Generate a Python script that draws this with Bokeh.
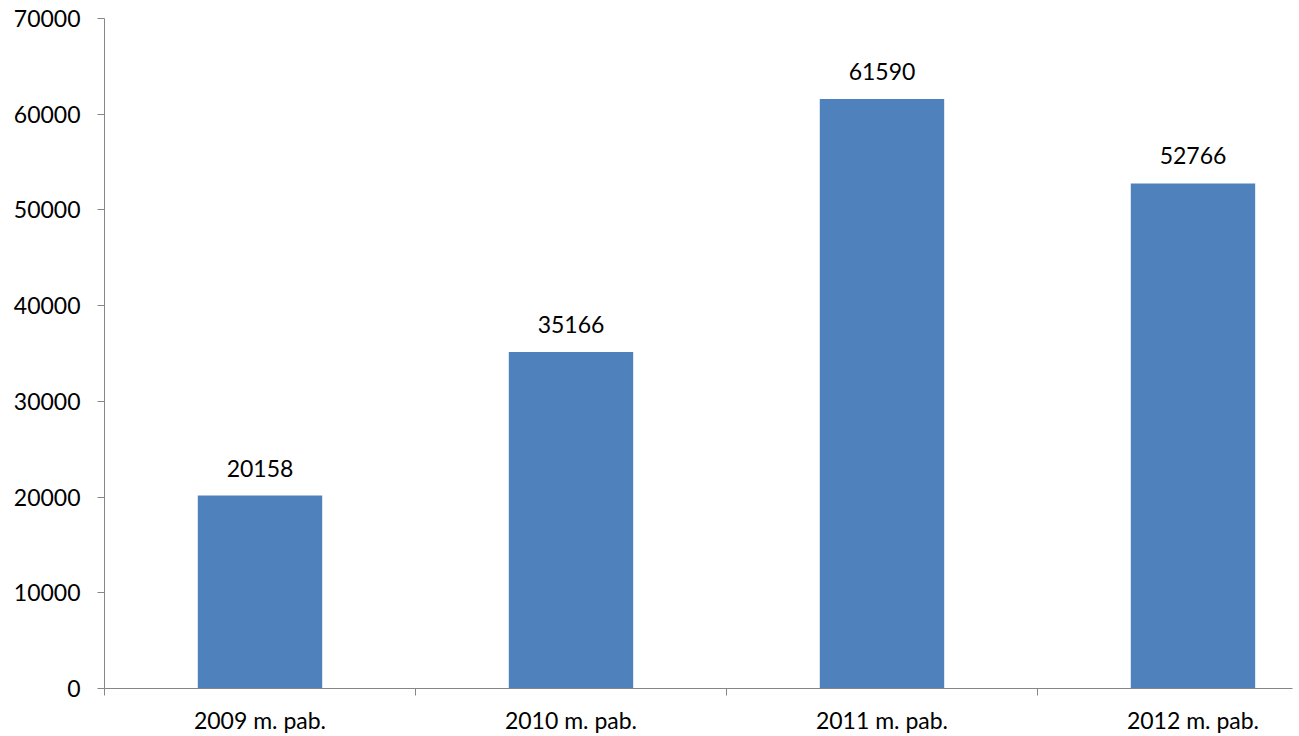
from bokeh.plotting import figure
from bokeh.models import Range1d, FixedTicker, ColumnDataSource
from bokeh.core.properties import value
from bokeh.embed import file_html
from bokeh.resources import INLINE

categories = ["2009 m. pab.", "2010 m. pab.", "2011 m. pab.", "2012 m. pab."]
values = [20158, 35166, 61590, 52766]
y_ticks = [0, 10000, 20000, 30000, 40000, 50000, 60000, 70000]

FONT = "Lato"
FS = "23px"
AXIS_COLOR = "#868686"

centers = [i + 0.5 for i in range(len(categories))]
src = ColumnDataSource(dict(x=centers, top=values, label=[str(v) for v in values]))

p = figure(width=1299, height=736, output_backend="svg", toolbar_location=None,
           x_range=Range1d(0, 3.82), y_range=Range1d(0, 70000),
           min_border_left=104, min_border_right=7, min_border_top=18, min_border_bottom=40)
p.outline_line_color = None
p.grid.visible = False

p.vbar(x="x", top="top", width=0.4, bottom=0, source=src,
       fill_color="#4F81BD", line_color=None)
p.text(x="x", y="top", text="label", source=src, text_align="center",
       text_baseline="bottom", y_offset=-19, text_font=value(FONT),
       text_font_size=FS, text_color="#000000")

xa = p.xaxis[0]
xa.ticker = FixedTicker(ticks=centers, minor_ticks=[0, 1, 2, 3])
xa.major_label_overrides = {c: lab for c, lab in zip(centers, categories)}
xa.major_tick_out = 0
xa.major_tick_in = 0
xa.minor_tick_out = 7
xa.minor_tick_in = 0
xa.minor_tick_line_color = AXIS_COLOR
xa.axis_line_color = AXIS_COLOR
xa.major_label_standoff = 10
xa.major_label_text_font = FONT
xa.major_label_text_font_size = FS
xa.major_label_text_color = "#000000"

ya = p.yaxis[0]
ya.ticker = FixedTicker(ticks=y_ticks)
ya.major_tick_out = 7
ya.major_tick_in = 0
ya.minor_tick_out = 0
ya.minor_tick_in = 0
ya.major_tick_line_color = AXIS_COLOR
ya.axis_line_color = AXIS_COLOR
ya.major_label_standoff = 17
ya.major_label_text_font = FONT
ya.major_label_text_font_size = FS
ya.major_label_text_color = "#000000"
ya.formatter.use_scientific = False

open("out.html", "w").write(file_html(p, INLINE))
